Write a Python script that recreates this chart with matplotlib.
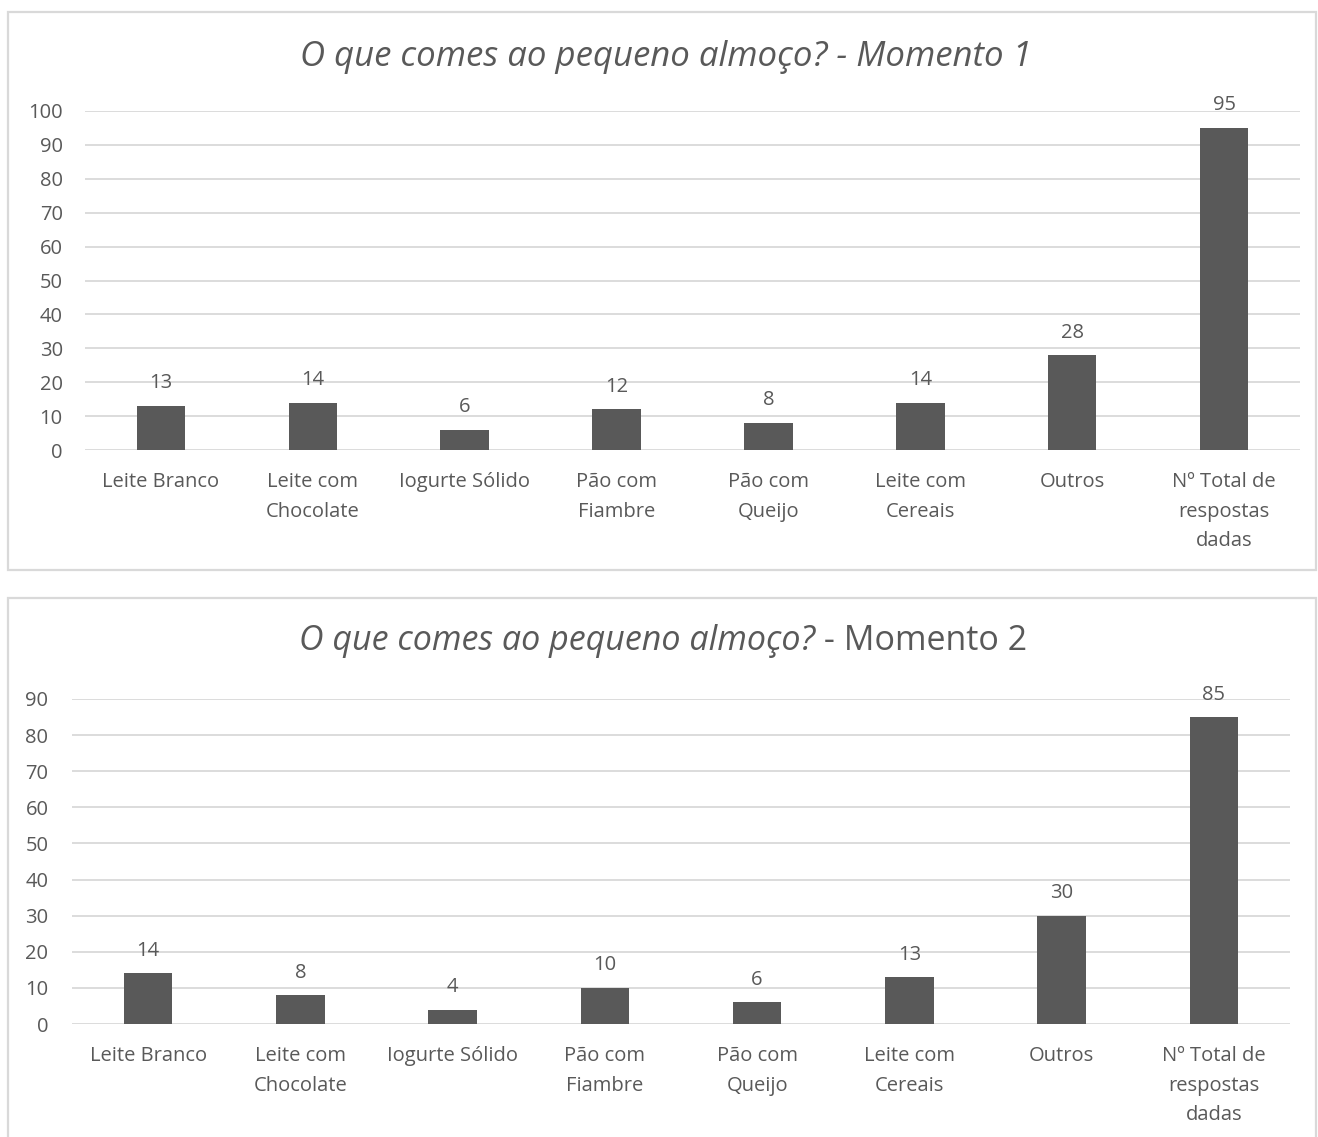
import numpy as np
import matplotlib.pyplot as plt
from matplotlib.patches import Rectangle

plt.rcParams['font.family'] = ['Open Sans', 'DejaVu Sans']

categories = ['Leite Branco', 'Leite com\nChocolate', 'Iogurte Sólido', 'Pão com\nFiambre',
              'Pão com\nQueijo', 'Leite com\nCereais', 'Outros', 'Nº Total de\nrespostas\ndadas']
momento1 = [13, 14, 6, 12, 8, 14, 28, 95]
momento2 = [14, 8, 4, 10, 6, 13, 30, 85]
yticks1 = list(range(0, 101, 10))
yticks2 = list(range(0, 91, 10))

W, H = 1318, 1137
TXT = '#595959'
GRID = '#d9d9d9'
BAR = '#595959'
FS = 14.5

fig = plt.figure(figsize=(W / 100, H / 100), dpi=100, facecolor='white')

# panel borders (pixels -> figure fraction)
def box(x0, y0, x1, y1):
    fig.patches.append(Rectangle((x0 / W, 1 - y1 / H), (x1 - x0) / W, (y1 - y0) / H,
                                 transform=fig.transFigure, fill=False,
                                 edgecolor=GRID, linewidth=1.6))
box(8, 12, 1316, 570)
box(8, 598, 1316, 1150)


def panel(rect, vals, yticks, ypad):
    ax = fig.add_axes(rect)
    x = np.arange(len(categories))
    ax.bar(x, vals, width=0.32, color=BAR, zorder=3)
    for xi, v in zip(x, vals):
        ax.annotate(str(v), (xi, v), xytext=(0, 9), textcoords='offset points',
                    ha='center', va='bottom', fontsize=FS, color=TXT)
    ax.set_xlim(-0.5, len(categories) - 0.5)
    ax.set_ylim(0, yticks[-1])
    ax.set_yticks(yticks)
    ax.set_xticks(x)
    ax.set_xticklabels(categories, linespacing=1.62)
    ax.tick_params(axis='both', length=0, labelsize=FS, labelcolor=TXT)
    ax.tick_params(axis='x', pad=16)
    ax.tick_params(axis='y', pad=ypad)
    ax.grid(axis='y', color=GRID, linewidth=1.3, zorder=0)
    for s in ax.spines.values():
        s.set_visible(False)
    return ax

panel([85 / W, 1 - 450 / H, (1300 - 85) / W, (450 - 111) / H], momento1, yticks1, 16)
panel([72 / W, 1 - 1024 / H, (1290 - 72) / W, (1024 - 699) / H], momento2, yticks2, 17)

# titles
fig.text(666 / W, 1 - 57 / H, 'O que comes ao pequeno almoço? - Momento 1',
         ha='center', va='center', fontsize=25, style='italic', color=TXT)

r = fig.canvas.get_renderer()
t1 = fig.text(0, 1 - 641 / H, 'O que comes ao pequeno almoço?', ha='left', va='center',
              fontsize=24.5, style='italic', color=TXT)
t2 = fig.text(0, 1 - 641 / H, ' - Momento 2', ha='left', va='center',
              fontsize=24.5, color=TXT)
w1 = t1.get_window_extent(r).width
w2 = t2.get_window_extent(r).width
x0 = 663 - (w1 + w2) / 2
t1.set_x(x0 / W)
t2.set_x((x0 + w1) / W)

plt.savefig('out.png', dpi=100, facecolor='white')
